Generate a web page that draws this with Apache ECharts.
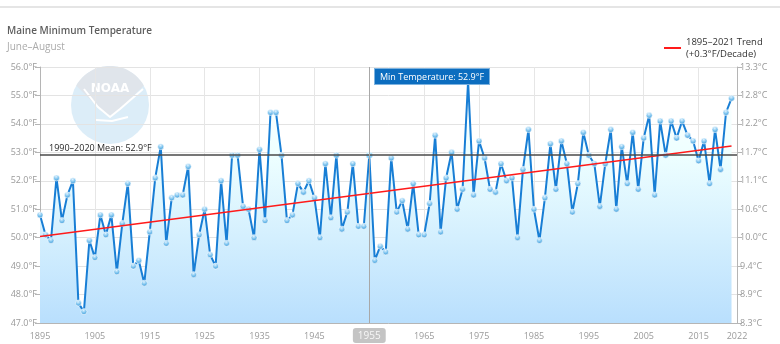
<!DOCTYPE html>
<html>
<head>
<meta charset="utf-8">
<title>Maine Minimum Temperature</title>
<script src="https://cdn.jsdelivr.net/npm/echarts@6/dist/echarts.min.js"></script>
<style>
  html, body { margin: 0; padding: 0; background: #fff; }
  #chart { width: 780px; height: 344px; }
</style>
</head>
<body>
<div id="chart"></div>
<script>
// June–August mean minimum temperature in Maine (°F), one value per year from 1895
const firstYear = 1895;
const axisEndYear = 2022;
const minTempF = [
  50.8, 50.1, 49.9, 52.1, 50.6, 51.5, 52.0, 47.7, 47.4, 49.9,
  49.3, 50.8, 50.1, 50.8, 48.8, 50.5, 51.9, 49.0, 49.2, 48.4,
  50.2, 52.1, 53.2, 49.8, 51.4, 51.5,
  51.5, 52.5, 48.7, 50.1, 51.0, 49.4, 49.0, 52.0, 49.8, 52.9,
  52.9, 51.1, 51.0, 50.0, 53.1, 50.6, 54.4, 54.4, 52.9, 50.6,
  50.8, 51.9, 51.6, 52.0, 51.4, 50.0, 52.6, 50.7, 52.9, 50.3,
  50.9, 52.6, 50.4, 50.4, 52.9, 49.2, 49.7, 49.5, 52.8, 50.9,
  51.3, 50.3, 51.9, 50.1, 50.1, 51.2, 53.6, 50.2, 52.1, 53.0,
  51.0, 51.7, 55.5, 51.5, 53.4, 52.8, 51.7, 51.6, 52.6, 52.0,
  52.1, 50.0, 52.4, 53.8, 51.0, 49.9, 51.4, 53.3, 51.7, 53.4,
  52.6, 50.9, 51.9, 53.7, 52.9, 52.6, 51.1, 52.6, 53.8, 51.0,
  53.2, 51.9, 53.7, 51.7, 53.5, 54.3, 51.5, 54.1, 52.9, 54.1,
  53.5, 54.1, 53.6, 53.4, 52.7, 53.4, 51.9, 53.8, 52.4, 54.4,
  54.9
];

// Linear trend 1895–2021 (end points, °F)
const trendYears = [1895, 2021];
const trendF = [50.04, 53.22];
const trendName = '1895–2021 Trend';
const trendNote = '(+0.3°F/Decade)';

// 1990–2020 normal
const meanF = 52.9;
const meanLabel = '1990–2020 Mean: 52.9°F';

// Temperature axis range (°F) and highlighted year
const tempMinF = 47;
const tempMaxF = 56;
const tempStepF = 1;
const yearStep = 10;
const highlightYear = 1955;

const FONT = '"Open Sans", "Noto Sans", sans-serif';
const toC = f => (f - 32) * 5 / 9;

const tempSeries = minTempF.map((v, i) => [firstYear + i, v]);
const trendSeries = trendYears.map((y, i) => [y, trendF[i]]);

// NOAA emblem drawn as a faint watermark
function arcPoints(cx, cy, r, a0, a1, n) {
  const pts = [];
  for (let k = 0; k <= n; k++) {
    const a = (a0 + (a1 - a0) * k / n) * Math.PI / 180;
    pts.push([cx + r * Math.cos(a), cy + r * Math.sin(a)]);
  }
  return pts;
}
const lcx = 110, lcy = 105, lr = 39;
const capPts = arcPoints(lcx, lcy, lr, -150, -30, 30).concat([[lcx + 10, lcy + 4], [lcx, lcy + 12], [lcx - 12, lcy + 2]]);

const chart = echarts.init(document.getElementById('chart'), null, { renderer: 'canvas' });

chart.setOption({
  animation: false,
  backgroundColor: '#fff',
  textStyle: { fontFamily: FONT },
  title: {
    text: 'Maine Minimum Temperature',
    subtext: 'June–August',
    left: 2,
    top: 21,
    itemGap: 6,
    textStyle: { fontFamily: FONT, fontSize: 10, fontWeight: 600, color: '#5e5e5e' },
    subtextStyle: { fontFamily: FONT, fontSize: 10, color: '#ababab' }
  },
  legend: {
    data: [trendName],
    left: 659,
    top: 31,
    icon: 'rect',
    itemWidth: 17,
    itemHeight: 2,
    itemGap: 4,
    formatter: name => name + '\n' + trendNote,
    textStyle: { fontFamily: FONT, fontSize: 9.5, color: '#333', lineHeight: 12 }
  },
  graphic: [
    {
      type: 'line', silent: true, z: -5,
      shape: { x1: 0, y1: 7, x2: 780, y2: 7 },
      style: { stroke: '#dcdcdc', lineWidth: 1.5 }
    },
    {
      type: 'group', silent: true, z: -5,
      children: [
        { type: 'circle', shape: { cx: lcx, cy: lcy, r: lr }, style: { fill: '#dcedf8' } },
        { type: 'polygon', shape: { points: capPts }, style: { fill: '#e0e5eb' } },
        {
          type: 'polyline',
          shape: { points: [[lcx - 26, lcy - 16], [lcx - 12, lcy + 2], [lcx, lcy + 12], [lcx + 10, lcy + 4], [lcx + 33, lcy - 16]] },
          style: { stroke: '#ffffff', lineWidth: 2, fill: null }
        },
        {
          type: 'polyline',
          shape: { points: [[lcx - 14, lcy + 15], [lcx + 2, lcy + 16], [lcx + 18, lcy + 12]] },
          style: { stroke: '#ffffff', lineWidth: 2, fill: null }
        },
        {
          type: 'text',
          style: {
            x: lcx, y: lcy - 16, text: 'NOAA', fill: '#ffffff',
            font: 'bold 12px "DejaVu Sans", sans-serif', align: 'center', verticalAlign: 'middle'
          }
        }
      ]
    }
  ],
  grid: { left: 40, right: 43, top: 67, bottom: 21, containLabel: false },
  tooltip: {
    trigger: 'axis',
    triggerOn: 'none',
    alwaysShowContent: true,
    transitionDuration: 0,
    showDelay: 0,
    backgroundColor: '#0c6dbf',
    borderColor: '#7db3e0',
    borderWidth: 1,
    padding: [1, 5],
    extraCssText: 'box-shadow:none;border-radius:0;line-height:13px;',
    textStyle: { fontFamily: FONT, fontSize: 9, color: '#fff' },
    axisPointer: {
      type: 'line',
      lineStyle: { color: '#a8a8a8', width: 1, type: 'solid' }
    },
    position: function (point) {
      return [point[0] + 5, 68];
    },
    formatter: function (params) {
      const p = params.find(q => q.seriesIndex === 0);
      return p ? 'Min Temperature: ' + p.value[1].toFixed(1) + '°F' : '';
    }
  },
  xAxis: {
    type: 'value',
    min: firstYear,
    max: axisEndYear,
    interval: yearStep,
    axisLine: { lineStyle: { color: '#b5b5b5', width: 1 } },
    axisTick: { show: false },
    axisLabel: {
      color: '#9a9a9a', fontSize: 9, fontFamily: FONT, margin: 9,
      showMinLabel: true, showMaxLabel: true,
      formatter: v => String(Math.round(v))
    },
    splitLine: { show: true, lineStyle: { color: '#e6e6e6', width: 1 } },
    axisPointer: {
      snap: true,
      label: {
        show: true,
        formatter: p => String(Math.round(p.value)),
        backgroundColor: '#c4c4c4',
        color: '#f6f6f6',
        fontFamily: FONT,
        fontSize: 10,
        padding: [3, 5, 2, 5],
        margin: 5,
        shadowBlur: 0
      }
    }
  },
  yAxis: [
    {
      type: 'value',
      position: 'left',
      min: tempMinF,
      max: tempMaxF,
      interval: tempStepF,
      axisLine: { show: true, lineStyle: { color: '#b5b5b5', width: 1 } },
      axisTick: { show: true, length: 5, lineStyle: { color: '#b5b5b5' } },
      axisLabel: {
        color: '#9a9a9a', fontSize: 9, fontFamily: FONT, margin: 3,
        formatter: v => v.toFixed(1) + '°F'
      },
      splitLine: { show: true, lineStyle: { color: '#e3e3e3', width: 1 } }
    },
    {
      type: 'value',
      position: 'right',
      min: tempMinF,
      max: tempMaxF,
      interval: tempStepF,
      axisLine: { show: true, lineStyle: { color: '#b5b5b5', width: 1 } },
      axisTick: { show: true, length: 5, lineStyle: { color: '#b5b5b5' } },
      axisLabel: {
        color: '#9a9a9a', fontSize: 9, fontFamily: FONT, margin: 3,
        formatter: v => toC(v).toFixed(1) + '°C'
      },
      splitLine: { show: false }
    }
  ],
  series: [
    {
      name: 'Min Temperature',
      type: 'line',
      data: tempSeries,
      z: 2,
      lineStyle: { color: '#1673c2', width: 2 },
      symbol: 'circle',
      symbolSize: 6,
      showSymbol: true,
      itemStyle: {
        color: {
          type: 'radial', x: 0.45, y: 0.3, r: 0.75,
          colorStops: [
            { offset: 0, color: '#dff2ff' },
            { offset: 0.5, color: '#7cc3ee' },
            { offset: 1, color: '#2f8fd3' }
          ]
        },
        borderColor: '#ffffff',
        borderWidth: 0.6
      },
      areaStyle: {
        color: {
          type: 'linear', x: 0, y: 0, x2: 0, y2: 1,
          colorStops: [
            { offset: 0, color: '#eef5fb' },
            { offset: 0.3, color: '#d9e9f6' },
            { offset: 1, color: '#a9cbe6' }
          ]
        },
        opacity: 1
      },
      markLine: {
        silent: true,
        symbol: ['none', 'none'],
        lineStyle: { color: '#4a4a4a', width: 1.5, type: 'solid' },
        label: {
          show: true,
          position: 'insideStartTop',
          formatter: meanLabel,
          color: '#262626',
          fontFamily: FONT,
          fontSize: 9,
          distance: [9, 2]
        },
        data: [{ yAxis: meanF }]
      }
    },
    {
      name: trendName,
      type: 'line',
      data: trendSeries,
      z: 3,
      symbol: 'none',
      lineStyle: { color: '#ff1a1a', width: 1.5 },
      itemStyle: { color: '#ff1a1a' }
    }
  ]
});

chart.dispatchAction({
  type: 'showTip',
  seriesIndex: 0,
  dataIndex: highlightYear - firstYear
});
</script>
</body>
</html>
